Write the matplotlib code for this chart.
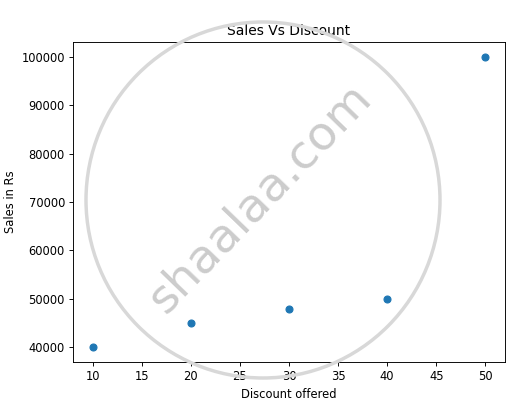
import matplotlib.pyplot as plt
from matplotlib.patches import Ellipse

discount = [10, 20, 30, 40, 50]
sales = [40000, 45000, 48000, 50000, 100000]

W, H, DPI = 530, 401, 83
fig = plt.figure(figsize=(W / DPI, H / DPI), dpi=DPI)
ax = fig.add_axes([73 / W, 1 - 362 / H, (505 - 73) / W, (362 - 42) / H])

ax.scatter(discount, sales, s=36)
ax.set_title("Sales Vs Discount")
ax.set_xlabel("Discount offered")
ax.set_ylabel("Sales in Rs")

# watermark
fig.patches.append(Ellipse((263 / W, 1 - 200 / H), 354 / W, 356 / H,
                           transform=fig.transFigure, fill=False,
                           edgecolor="#d8d8d8", lw=3, zorder=5))
fig.text(260 / W, 1 - 198 / H, "shaalaa.com", rotation=46, fontsize=41,
         color="#cccccc", ha="center", va="center", zorder=6)

plt.savefig("out.png", dpi=DPI)
